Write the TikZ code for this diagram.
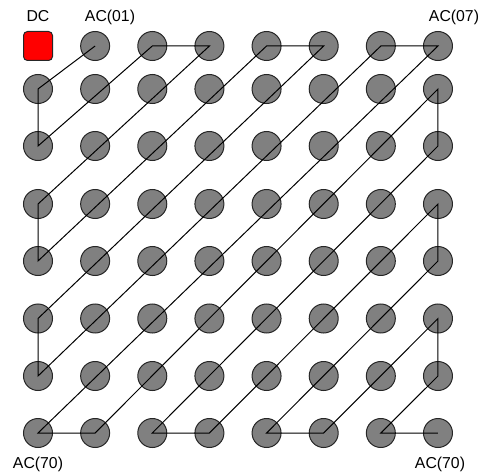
\documentclass[tikz,border=0pt]{standalone}
\usepackage{fontspec}
\setmainfont{Liberation Sans}
\usetikzlibrary{positioning}

\begin{document}
\begin{tikzpicture}[x=1pt, y=1pt,
    coef/.style = {circle, draw=black!85, fill=gray, line width=1pt, minimum size=29pt, inner sep=0pt},
    dcbox/.style = {rectangle, draw=black!85, fill=red, line width=1pt, rounded corners=4pt, minimum size=29pt, inner sep=0pt},
    lbl/.style = {font=\fontsize{15.8}{18}\selectfont, inner sep=0pt, anchor=base},
    scan/.style = {draw=black, line width=1pt}
]
\useasboundingbox (0,0) rectangle (482,475);
\node (n-0-0) [dcbox] at (38,429) {};
\foreach \r/\y in {0/429,1/386,2/329,3/271,4/214,5/156.5,6/99,7/42} {
  \foreach \c in {0,...,7} {
    \ifnum\r\c>0
      \node (n-\r-\c) [coef] at ({38+57.14*\c},\y) {};
    \fi
  }
}

\node (l-dc) [lbl] at (38,453) {DC};
\node (l-ac01) [lbl] at (110,453) {AC(01)};
\node (l-ac07) [lbl] at (454,453) {AC(07)};
\node (l-ac70) [lbl] at (38,7) {AC(70)};
\node (l-ac77) [lbl] at (440,7) {AC(70)};

\draw [scan] (n-0-1.center) -- (n-1-0.center) -- (n-2-0.center) -- (n-0-2.center)
  -- (n-0-3.center) -- (n-3-0.center) -- (n-4-0.center) -- (n-0-4.center)
  -- (n-0-5.center) -- (n-5-0.center) -- (n-6-0.center) -- (n-0-6.center)
  -- (n-0-7.center) -- (n-7-0.center) -- (n-7-1.center) -- (n-1-7.center)
  -- (n-2-7.center) -- (n-7-2.center) -- (n-7-3.center) -- (n-3-7.center)
  -- (n-4-7.center) -- (n-7-4.center) -- (n-7-5.center) -- (n-5-7.center)
  -- (n-6-7.center) -- (n-7-6.center) -- (n-7-7.center);
\end{tikzpicture}
\end{document}
